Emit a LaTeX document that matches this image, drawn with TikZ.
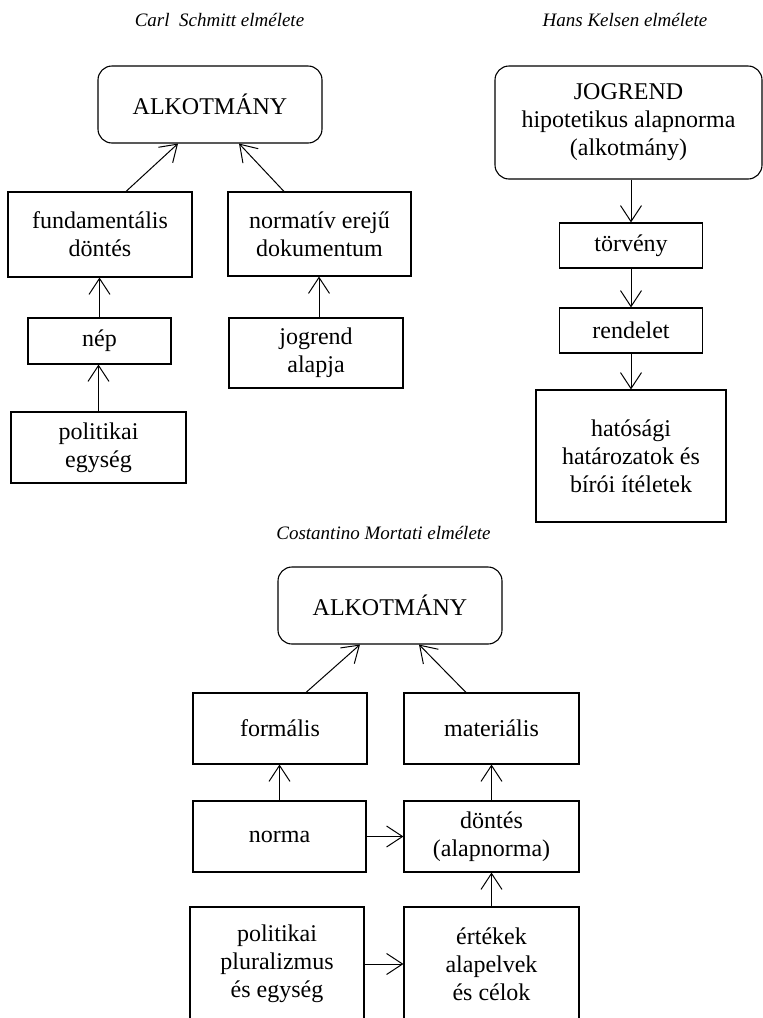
\documentclass[tikz,border=0pt]{standalone}
\usepackage{fontspec}
\setmainfont{Liberation Serif}
\usetikzlibrary{arrows.meta}
\begin{document}
\begin{tikzpicture}[x=1pt,y=-1pt,
  box/.style={draw,line width=1.1pt,inner sep=0pt,align=center,
    font=\fontsize{24}{28}\selectfont},
  rbox/.style={box,rounded corners=14pt},
  ttl/.style={inner sep=0pt,font=\fontsize{19}{22}\selectfont\itshape},
  arr/.style={line width=1pt,-{Straight Barb[length=16pt,width=21pt,line width=1pt]}}]
\useasboundingbox (0,0) rectangle (763,1018);
% titles
\node[ttl] (t1) at (219.5,20) {Carl\ \ Schmitt elmélete};
\node[ttl] (t2) at (625,20) {Hans Kelsen elmélete};
\node[ttl] (t3) at (383.5,533) {Costantino Mortati elmélete};
% Schmitt
\node[rbox,minimum width=224pt,minimum height=77pt] (salk) at (210,104.5) {ALKOTMÁNY};
\node[box,minimum width=184pt,minimum height=85pt] (sfund) at (100,234.5) {fundamentális\\döntés};
\node[box,minimum width=183pt,minimum height=84pt] (snorm) at (319.5,234) {normatív erejű\\dokumentum};
\node[box,minimum width=143pt,minimum height=46pt] (snep) at (99.5,341) {nép};
\node[box,minimum width=174pt,minimum height=70pt] (sjog) at (316,353) {jogrend\\alapja};
\node[box,minimum width=175pt,minimum height=71pt] (spol) at (98.5,447.5) {politikai\\egység};
\draw[arr] ([xshift=26pt]sfund.north) -- ([xshift=-32pt]salk.south);
\draw[arr] ([xshift=-35.5pt]snorm.north) -- ([xshift=29pt]salk.south);
\draw[arr] (snep.north) -- (snep.north |- sfund.south);
\draw[arr] (spol.north) -- (spol.north |- snep.south);
\draw[arr] ([xshift=3pt]sjog.north) -- ([xshift=3pt]sjog.north |- snorm.south);
% Kelsen
\node[rbox,minimum width=267pt,minimum height=113pt] (kjog) at (628.5,122.5) {JOGREND\\hipotetikus alapnorma\\(alkotmány)};
\node[box,minimum width=143pt,minimum height=45pt] (ktorv) at (631,245.5) {törvény};
\node[box,minimum width=143pt,minimum height=45pt] (krend) at (631,330.5) {rendelet};
\node[box,minimum width=190pt,minimum height=132pt] (khat) at (631,456) {hatósági\\határozatok és\\bírói ítéletek};
\draw[arr] (ktorv.north |- kjog.south) -- (ktorv.north);
\draw[arr] (ktorv.south) -- (krend.north);
\draw[arr] (krend.south) -- (khat.north);
% Mortati
\node[rbox,minimum width=224pt,minimum height=77pt] (malk) at (390,605.5) {ALKOTMÁNY};
\node[box,minimum width=174pt,minimum height=71pt] (mform) at (280,728.5) {formális};
\node[box,minimum width=175pt,minimum height=71pt] (mmat) at (491.5,728.5) {materiális};
\node[box,minimum width=173pt,minimum height=71pt] (mnorma) at (279.5,836.5) {norma};
\node[box,minimum width=175pt,minimum height=71pt] (mdont) at (491.5,836.5) {döntés\\(alapnorma)};
\node[box,minimum width=174pt,minimum height=114pt] (mpol) at (277,964) {politikai\\pluralizmus\\és egység};
\node[box,minimum width=175pt,minimum height=114pt] (mert) at (491.5,964) {értékek\\alapelvek\\és célok};
\draw[arr] ([xshift=26pt]mform.north) -- ([xshift=-30pt]malk.south);
\draw[arr] ([xshift=-25.5pt]mmat.north) -- ([xshift=29pt]malk.south);
\draw[arr] (mnorma.north) -- (mnorma.north |- mform.south);
\draw[arr] (mdont.north) -- (mmat.south);
\draw[arr] (mert.north) -- (mdont.south);
\draw[arr] (mnorma.east) -- (mdont.west);
\draw[arr] (mpol.east) -- (mpol.east -| mert.west);
\end{tikzpicture}
\end{document}
